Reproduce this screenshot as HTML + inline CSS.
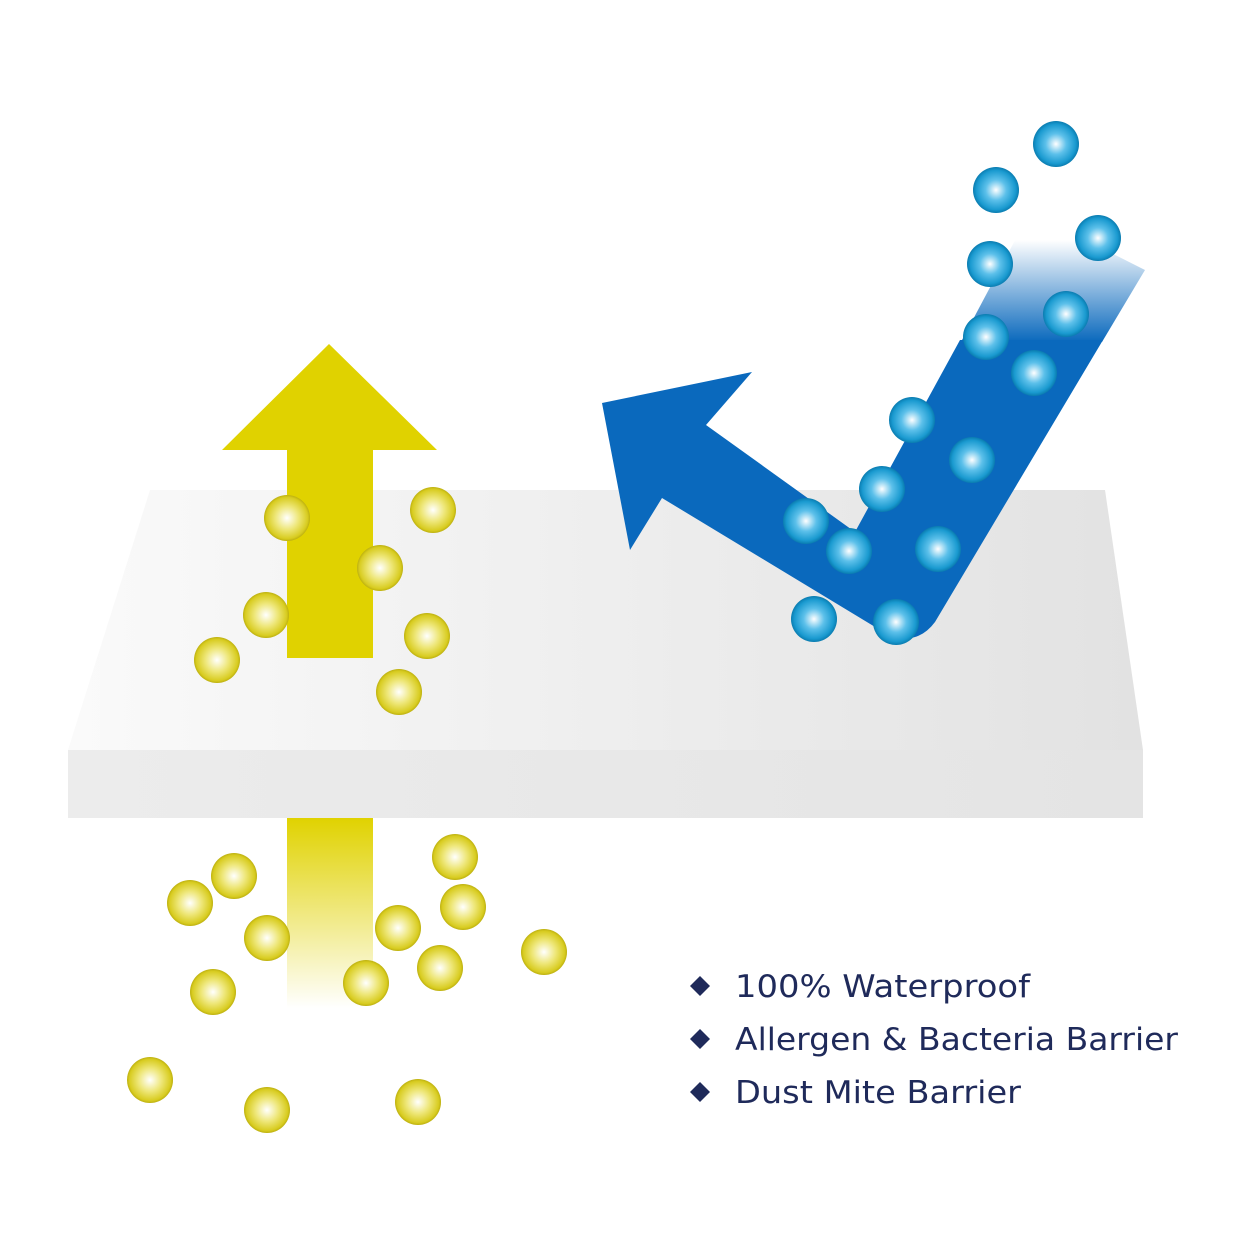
<!DOCTYPE html>
<html><head><meta charset="utf-8"><style>
html,body{margin:0;padding:0;background:#fff;}
svg{display:block}
</style></head><body>
<svg width="1260" height="1260" viewBox="0 0 1260 1260" xmlns="http://www.w3.org/2000/svg">
<defs>
<linearGradient id="top" x1="0" y1="0" x2="1" y2="0">
<stop offset="0" stop-color="#fafafa"/><stop offset="1" stop-color="#e2e2e2"/></linearGradient>
<linearGradient id="front" x1="0" y1="0" x2="1" y2="0">
<stop offset="0" stop-color="#ececec"/><stop offset="1" stop-color="#e4e4e4"/></linearGradient>
<linearGradient id="yfade" x1="0" y1="0" x2="0" y2="1">
<stop offset="0" stop-color="#e0d200"/><stop offset="1" stop-color="#e0d200" stop-opacity="0"/></linearGradient>
<linearGradient id="bfade" gradientUnits="userSpaceOnUse" x1="0" y1="342" x2="0" y2="240">
<stop offset="0" stop-color="#0a69bd"/><stop offset="1" stop-color="#0a69bd" stop-opacity="0"/></linearGradient>
<radialGradient id="yb" cx="0.5" cy="0.5" r="0.5">
<stop offset="0" stop-color="#ffffff"/><stop offset="0.5" stop-color="#eee77a"/><stop offset="0.9" stop-color="#d8cc20"/><stop offset="1" stop-color="#bdb010"/></radialGradient>
<radialGradient id="bb" cx="0.5" cy="0.5" r="0.5">
<stop offset="0" stop-color="#ffffff"/><stop offset="0.45" stop-color="#5cc0ea"/><stop offset="0.85" stop-color="#1a9ad0"/><stop offset="1" stop-color="#0a7cb0"/></radialGradient>
</defs>
<polygon points="150,490 1105,490 1143,750 68,750" fill="url(#top)"/>
<rect x="68" y="750" width="1075" height="68" fill="url(#front)"/>
<!-- yellow arrow -->
<polygon points="329,344 437,450 373,450 373,658 287,658 287,450 222,450" fill="#e0d200"/>
<rect x="287" y="818" width="86" height="190" fill="url(#yfade)"/>
<!-- blue arrow -->
<path d="M855,532 L960,340 L1103,340 L935,622 Q918,645 890,636 L662,498 L630,550 L602,403 L752,372 L706,425 Z" fill="#0a69bd"/>
<polygon points="961,342 1030,212 1145,270 1102,342" fill="url(#bfade)"/>
<g fill="url(#yb)">
<circle cx="287" cy="518" r="23"/><circle cx="433" cy="510" r="23"/><circle cx="380" cy="568" r="23"/>
<circle cx="266" cy="615" r="23"/><circle cx="427" cy="636" r="23"/><circle cx="217" cy="660" r="23"/>
<circle cx="399" cy="692" r="23"/>
<circle cx="455" cy="857" r="23"/><circle cx="234" cy="876" r="23"/><circle cx="190" cy="903" r="23"/>
<circle cx="463" cy="907" r="23"/><circle cx="267" cy="938" r="23"/><circle cx="398" cy="928" r="23"/>
<circle cx="544" cy="952" r="23"/><circle cx="440" cy="968" r="23"/><circle cx="366" cy="983" r="23"/>
<circle cx="213" cy="992" r="23"/><circle cx="150" cy="1080" r="23"/><circle cx="267" cy="1110" r="23"/>
<circle cx="418" cy="1102" r="23"/>
</g>
<g fill="url(#bb)">
<circle cx="1056" cy="144" r="23"/><circle cx="996" cy="190" r="23"/><circle cx="1098" cy="238" r="23"/>
<circle cx="990" cy="264" r="23"/><circle cx="1066" cy="314" r="23"/><circle cx="986" cy="337" r="23"/>
<circle cx="1034" cy="373" r="23"/><circle cx="912" cy="420" r="23"/><circle cx="972" cy="460" r="23"/>
<circle cx="882" cy="489" r="23"/><circle cx="806" cy="521" r="23"/><circle cx="849" cy="551" r="23"/>
<circle cx="938" cy="549" r="23"/><circle cx="814" cy="619" r="23"/><circle cx="896" cy="622" r="23"/>
</g>
<g fill="#1f2a5a">
<polygon points="700,976 710,986 700,996 690,986"/>
<polygon points="700,1029 710,1039 700,1049 690,1039"/>
<polygon points="700,1082 710,1092 700,1102 690,1092"/>
</g>
<g font-family="'DejaVu Sans',sans-serif" font-size="31" fill="#1f2a5a">
<text x="735" y="997" textLength="295" lengthAdjust="spacingAndGlyphs">100% Waterproof</text>
<text x="735" y="1050" textLength="443" lengthAdjust="spacingAndGlyphs">Allergen &amp; Bacteria Barrier</text>
<text x="735" y="1103" textLength="286" lengthAdjust="spacingAndGlyphs">Dust Mite Barrier</text>
</g>
</svg>
</body></html>
